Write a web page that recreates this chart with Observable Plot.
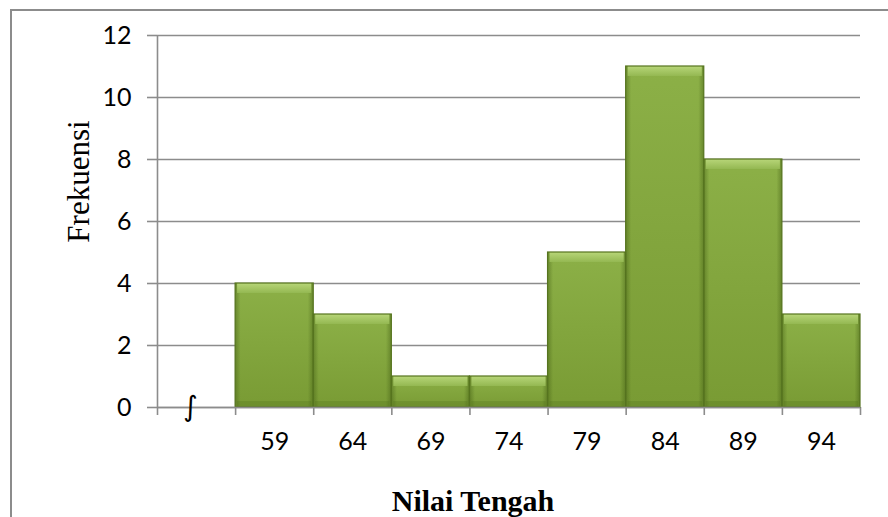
<!DOCTYPE html>
<html>
<head>
<meta charset="utf-8">
<script src="https://cdn.jsdelivr.net/npm/d3@7"></script>
<script src="https://cdn.jsdelivr.net/npm/@observablehq/plot@0.6"></script>
<style>
html,body{margin:0;padding:0;background:#fff;overflow:hidden;}
#wrap{position:relative;width:888px;height:517px;overflow:hidden;}
#frame{position:absolute;left:10px;top:9px;width:900px;height:600px;border-left:2px solid #8c8c8c;border-top:2px solid #8c8c8c;}
#chart{position:absolute;left:0;top:0;}
</style>
</head>
<body>
<div id="wrap"><div id="frame"></div><div id="chart"></div></div>
<script>
// Categories (first one is an empty "break" slot shown with ∫)
const categories = ["", "59", "64", "69", "74", "79", "84", "89", "94"];
const frequencies = [0, 4, 3, 1, 1, 5, 11, 8, 3];
const yTicks = [0, 2, 4, 6, 8, 10, 12];
const yLabel = "Frekuensi";
const xLabel = "Nilai Tengah";
const breakSymbol = "∫";

const data = categories.map((c, i) => ({cat: c, i, x1: i, x2: i + 1, mid: i + 0.5, value: frequencies[i]}));
const bars = data.filter(d => d.value > 0);
const labels = data.filter(d => d.cat !== "");

const gridColor = "#8c8c8c";

const defs = () => {
  const g = d3.create("svg:defs");
  const main = g.append("linearGradient").attr("id", "barMain").attr("x1", 0).attr("y1", 0).attr("x2", 0).attr("y2", 1);
  main.append("stop").attr("offset", "0%").attr("stop-color", "#8cb047");
  main.append("stop").attr("offset", "100%").attr("stop-color", "#799b34");
  const side = g.append("linearGradient").attr("id", "barSide").attr("x1", 0).attr("y1", 0).attr("x2", 1).attr("y2", 0);
  side.append("stop").attr("offset", "0%").attr("stop-color", "#3f5a12").attr("stop-opacity", 0.45);
  side.append("stop").attr("offset", "7%").attr("stop-color", "#3f5a12").attr("stop-opacity", 0.0);
  side.append("stop").attr("offset", "93%").attr("stop-color", "#3f5a12").attr("stop-opacity", 0.0);
  side.append("stop").attr("offset", "100%").attr("stop-color", "#3f5a12").attr("stop-opacity", 0.45);
  const top = g.append("linearGradient").attr("id", "barTop").attr("x1", 0).attr("y1", 0).attr("x2", 0).attr("y2", 1);
  top.append("stop").attr("offset", "0%").attr("stop-color", "#b8d679");
  top.append("stop").attr("offset", "100%").attr("stop-color", "#94b852");
  return g.node();
};

const chart = Plot.plot({
  width: 888,
  height: 517,
  marginLeft: 157,
  marginRight: 28,
  marginTop: 35,
  marginBottom: 110,
  x: {domain: [0, categories.length], axis: null},
  y: {domain: [0, 12], axis: null},
  style: {background: "transparent", overflow: "visible"},
  marks: [
    defs,
    Plot.gridY(yTicks, {stroke: gridColor, strokeOpacity: 1, strokeWidth: 1.6}),
    Plot.axisY(yTicks, {tickSize: 10, tickPadding: 16, stroke: gridColor, strokeWidth: 1.6, fill: "#000", fontSize: 25, fontFamily: "Lato", label: null}),
    Plot.ruleX([0], {stroke: gridColor, strokeWidth: 1.6}),
    Plot.axisX(d3.range(0, categories.length + 1), {tickSize: 8, tickFormat: () => "", stroke: gridColor, strokeWidth: 1.6, label: null}),
    // bars
    Plot.rect(bars, {x1: "x1", x2: "x2", y1: 0, y2: "value", fill: "url(#barMain)"}),
    Plot.rect(bars, {x1: "x1", x2: "x2", y1: 0, y2: "value", fill: "url(#barSide)"}),
    Plot.rect(bars, {x1: "x1", x2: "x2", y1: "value", y2: "value", insetBottom: -10, insetLeft: 2, insetRight: 2, fill: "url(#barTop)"}),
    Plot.rect(bars, {x1: "x1", x2: "x2", y1: 0, y2: 0, insetTop: -6, insetLeft: 2, insetRight: 2, fill: "#4a6a18", fillOpacity: 0.25}),
    Plot.rect(bars, {x1: "x1", x2: "x2", y1: 0, y2: "value", fill: "none", stroke: "#56741f", strokeWidth: 1.2}),
    Plot.ruleY([0], {stroke: gridColor, strokeWidth: 1.6}),
    // category labels
    Plot.text(labels, {x: "mid", y: 0, text: "cat", dy: 34, fontSize: 25, fontFamily: "Lato", fill: "#000", lineAnchor: "middle"}),
    Plot.text([breakSymbol], {x: [0.5], y: [0], text: d => d, dx: -6, dy: 0, fontSize: 28, fontFamily: "DejaVu Sans", fill: "#000", lineAnchor: "middle"}),
    // axis titles
    Plot.text([yLabel], {frameAnchor: "left", dx: -78, dy: -40, rotate: -90, fontSize: 31, fontFamily: "Liberation Serif", fill: "#000", lineAnchor: "middle", textAnchor: "middle"}),
    Plot.text([xLabel], {frameAnchor: "bottom", dx: -36, dy: 103, fontSize: 30, fontWeight: "bold", fontFamily: "Liberation Serif", fill: "#000", lineAnchor: "bottom", textAnchor: "middle"})
  ]
});
document.getElementById("chart").appendChild(chart);
</script>
</body>
</html>
